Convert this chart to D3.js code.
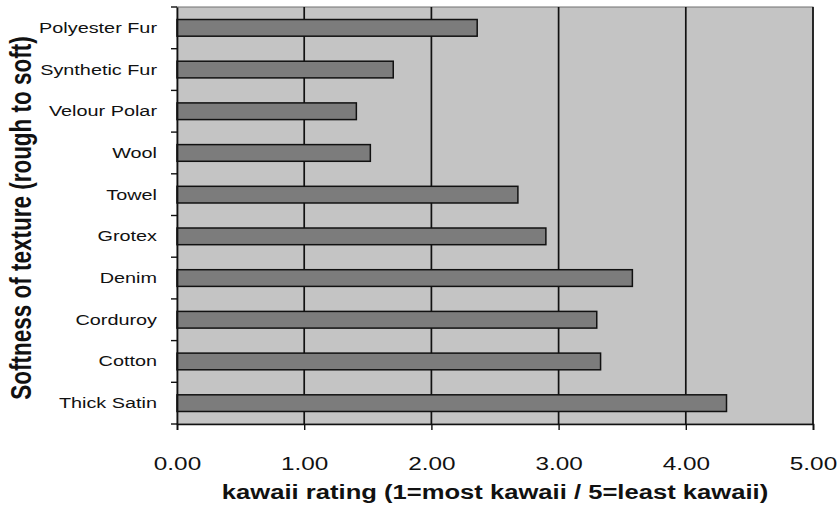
<!DOCTYPE html>
<html>
<head>
<meta charset="utf-8">
<script src="https://cdn.jsdelivr.net/npm/d3@7"></script>
<style>
  html, body { margin: 0; padding: 0; background: #ffffff; }
  svg { display: block; font-family: "Liberation Sans", Arial, sans-serif; }
</style>
</head>
<body>
<svg id="chart" width="840" height="508"></svg>
<script>
// Fabrics, listed top to bottom (rough to soft)
const fabrics = ["Polyester Fur", "Synthetic Fur", "Velour Polar", "Wool", "Towel",
                 "Grotex", "Denim", "Corduroy", "Cotton", "Thick Satin"];
// Mean kawaii rating per fabric
const ratings = [2.36, 1.70, 1.41, 1.52, 2.68, 2.90, 3.58, 3.30, 3.33, 4.32];
// X axis ticks
const xTicks = [0, 1, 2, 3, 4, 5];

const svg = d3.select("#chart");
const margin = { left: 177, right: 27, top: 7, bottom: 84 };
const W = 840, H = 508;
const innerW = W - margin.left - margin.right;
const innerH = H - margin.top - margin.bottom;
const stretch = 1.28; // wide lettering

const x = d3.scaleLinear().domain([0, 5]).range([0, innerW]);
const y = d3.scaleBand().domain(fabrics).range([0, innerH]).paddingInner(0.6).paddingOuter(0.3);
const yEdges = d3.scaleBand().domain(fabrics).range([0, innerH]);

const g = svg.append("g").attr("transform", `translate(${margin.left},${margin.top})`);

// plot area
g.append("rect")
  .attr("x", 0).attr("y", 0).attr("width", innerW).attr("height", innerH)
  .attr("fill", "#c4c4c4").attr("stroke", "#707070").attr("stroke-width", 1);

// vertical gridlines
g.selectAll("line.grid")
  .data(xTicks.filter(d => d > 0))
  .join("line")
  .attr("class", "grid")
  .attr("x1", d => x(d)).attr("x2", d => x(d))
  .attr("y1", 0).attr("y2", innerH)
  .attr("stroke", "#111").attr("stroke-width", 1.7);

// bars
g.selectAll("rect.bar")
  .data(fabrics)
  .join("rect")
  .attr("class", "bar")
  .attr("x", 0)
  .attr("y", d => y(d))
  .attr("width", (d, i) => x(ratings[i]))
  .attr("height", y.bandwidth())
  .attr("fill", "#7c7c7c")
  .attr("stroke", "#111").attr("stroke-width", 1.5);

// x axis
const xAxis = d3.axisBottom(x).tickValues(xTicks).tickFormat(d3.format(".2f")).tickSize(6).tickPadding(0);
const xg = g.append("g").attr("transform", `translate(0,${innerH})`).call(xAxis);
xg.select(".domain").attr("stroke", "#111").attr("stroke-width", 1.7);
xg.selectAll(".tick line").attr("stroke", "#111").attr("stroke-width", 1.4);
xg.selectAll(".tick text")
  .attr("font-size", 19).attr("fill", "#111")
  .attr("font-family", "'Liberation Sans', Arial, sans-serif")
  .attr("y", 0).attr("dy", null)
  .attr("transform", `translate(0,46) scale(${stretch},1)`);

// y axis: labels at band centres, ticks at band edges
const yAxis = d3.axisLeft(yEdges).tickSize(0).tickPadding(0);
const yg = g.append("g").call(yAxis);
yg.select(".domain").attr("stroke", "#111").attr("stroke-width", 1.7);
yg.selectAll(".tick text")
  .attr("font-size", 15.5).attr("fill", "#111")
  .attr("font-family", "'Liberation Sans', Arial, sans-serif")
  .attr("x", 0)
  .attr("transform", `translate(-20,0) scale(${stretch},1)`);
g.selectAll("line.ytick")
  .data(d3.range(fabrics.length + 1))
  .join("line")
  .attr("class", "ytick")
  .attr("x1", -6).attr("x2", 0)
  .attr("y1", i => i * yEdges.step()).attr("y2", i => i * yEdges.step())
  .attr("stroke", "#111").attr("stroke-width", 1.4);

// axis titles
svg.append("text")
  .attr("transform", `translate(495,499) scale(${stretch},1)`)
  .attr("text-anchor", "middle")
  .attr("font-size", 20).attr("font-weight", "bold").attr("fill", "#111")
  .text("kawaii rating (1=most kawaii / 5=least kawaii)");

svg.append("text")
  .attr("transform", `translate(31,218) rotate(-90) scale(1,${stretch})`)
  .attr("text-anchor", "middle")
  .attr("font-size", 22.5).attr("font-weight", "bold").attr("fill", "#111")
  .text("Softness of texture (rough to soft)");
</script>
</body>
</html>
